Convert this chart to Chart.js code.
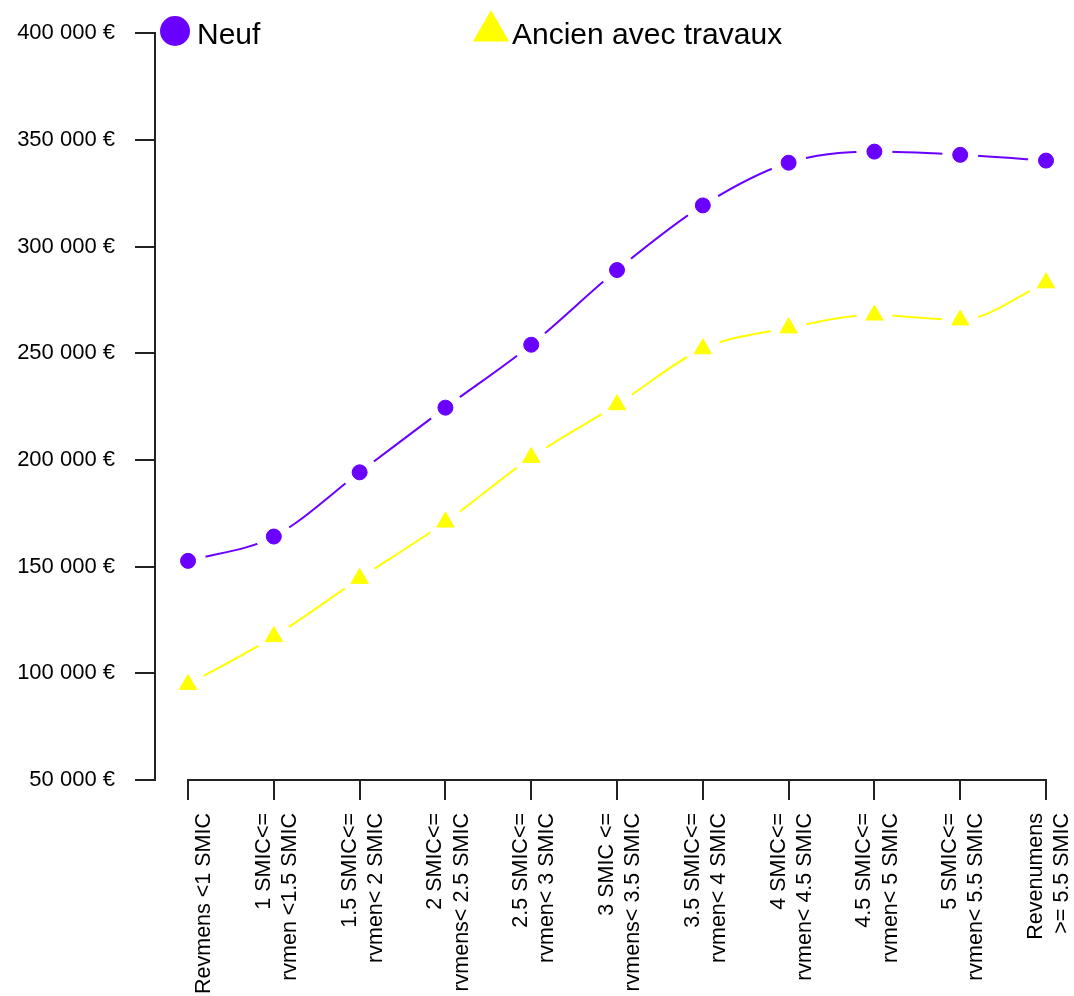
<!DOCTYPE html>
<html>
<head>
<meta charset="utf-8">
<script src="https://cdn.jsdelivr.net/npm/chart.js@4.4.1/dist/chart.umd.min.js"></script>
<style>
  body { margin: 0; background: #fff; }
</style>
</head>
<body>
<canvas id="prixRevenu" width="1074" height="996"></canvas>
<script>
// Tranches de revenu (axe X)
const categories = [
    ['', 'Revmens <1 SMIC'],
    ['1 SMIC<=', 'rvmen <1.5 SMIC'],
    ['1.5 SMIC<=', 'rvmen< 2 SMIC'],
    ['2 SMIC<=', 'rvmens< 2.5 SMIC'],
    ['2.5 SMIC<=', 'rvmen< 3 SMIC'],
    ['3 SMIC <=', 'rvmens< 3.5 SMIC'],
    ['3.5 SMIC<=', 'rvmen< 4 SMIC'],
    ['4 SMIC<=', 'rvmen< 4.5 SMIC'],
    ['4.5 SMIC<=', 'rvmen< 5 SMIC'],
    ['5 SMIC<=', 'rvmen< 5.5 SMIC'],
    ['Revenumens', '>= 5.5 SMIC']
];

// Prix moyens
const neuf = [152700, 164100, 194200, 224500, 254000, 289000, 319300, 339300, 344500, 343000, 340300];
const ancien = [94800, 117200, 144500, 170900, 201200, 225900, 252100, 261900, 267900, 265600, 283000];

// Graduations de l'axe Y
const yTicks = [50000, 100000, 150000, 200000, 250000, 300000, 350000, 400000];

const violet = '#6a00ff';
const jaune = '#ffff00';
const axe = '#222';

const euros = v => String(v).replace(/\B(?=(\d{3})+(?!\d))/g, ' ') + ' €';

// Trous blancs autour des points (comme type="b" de R)
const trous = {
    id: 'trous',
    afterDatasetDraw(chart, args) {
        const ctx = chart.ctx;
        args.meta.data.forEach(el => {
            ctx.save();
            ctx.fillStyle = '#fff';
            ctx.beginPath();
            ctx.arc(el.x, el.y, 18, 0, Math.PI * 2);
            ctx.fill();
            ctx.restore();
            el.draw(ctx, chart.chartArea);
        });
    }
};

// Ligne de l'axe X entre la première et la dernière tranche
const ligneX = {
    id: 'ligneX',
    afterDraw(chart) {
        const ctx = chart.ctx;
        const x = chart.scales.x;
        const y = chart.chartArea.bottom;
        ctx.save();
        ctx.strokeStyle = axe;
        ctx.lineWidth = 2;
        ctx.beginPath();
        ctx.moveTo(x.getPixelForValue(0) - 1, y);
        ctx.lineTo(x.getPixelForValue(categories.length - 1) + 1, y);
        ctx.stroke();
        ctx.restore();
    }
};

// Légende dessinée en haut du graphique
const legende = {
    id: 'legende',
    afterDraw(chart) {
        const ctx = chart.ctx;
        const ds = chart.data.datasets;
        ctx.save();
        ctx.font = '30px "Liberation Sans", Arial, sans-serif';
        ctx.textBaseline = 'alphabetic';

        // rond violet
        ctx.fillStyle = violet;
        ctx.beginPath();
        ctx.arc(175, 31, 15, 0, Math.PI * 2);
        ctx.fill();
        ctx.fillStyle = '#000';
        ctx.fillText(ds[0].label, 197, 44);

        // triangle jaune
        const r = 21, cx = 491, cy = 31;
        ctx.fillStyle = jaune;
        ctx.beginPath();
        ctx.moveTo(cx, cy - r);
        ctx.lineTo(cx + r * Math.sqrt(3) / 2, cy + r / 2);
        ctx.lineTo(cx - r * Math.sqrt(3) / 2, cy + r / 2);
        ctx.closePath();
        ctx.fill();
        ctx.fillStyle = '#000';
        ctx.fillText(ds[1].label, 512, 44);
        ctx.restore();
    }
};

const ctx = document.getElementById('prixRevenu').getContext('2d');

new Chart(ctx, {
    type: 'line',
    data: {
        datasets: [{
            label: 'Neuf',
            data: neuf.map((v, i) => ({ x: i, y: v })),
            borderColor: violet,
            backgroundColor: violet,
            borderWidth: 2,
            pointStyle: 'circle',
            pointRadius: 7.5,
            pointBorderWidth: 1,
            cubicInterpolationMode: 'monotone'
        }, {
            label: 'Ancien avec travaux',
            data: ancien.map((v, i) => ({ x: i, y: v })),
            borderColor: jaune,
            backgroundColor: jaune,
            borderWidth: 2,
            pointStyle: 'triangle',
            pointRadius: 10,
            pointBorderWidth: 1,
            cubicInterpolationMode: 'monotone'
        }]
    },
    options: {
        responsive: false,
        animation: false,
        devicePixelRatio: 1,
        layout: { padding: { left: 0, top: 30, right: 28, bottom: 0 } },
        plugins: {
            legend: { display: false },
            tooltip: { enabled: false }
        },
        scales: {
            x: {
                type: 'linear',
                min: -0.385,
                max: categories.length - 1,
                border: { display: false },
                grid: {
                    drawOnChartArea: false,
                    drawTicks: true,
                    tickLength: 20,
                    color: axe,
                    lineWidth: 2
                },
                ticks: {
                    stepSize: 1,
                    includeBounds: false,
                    autoSkip: false,
                    maxRotation: 90,
                    minRotation: 90,
                    labelOffset: -10,
                    padding: 13,
                    color: '#000',
                    font: { family: '"Liberation Sans", Arial, sans-serif', size: 21.5, lineHeight: 1.22 },
                    callback: v => categories[v] || ''
                },
                afterFit: s => {
                    s.height = 216;
                    s.paddingLeft = 0;
                    s.paddingRight = 0;
                }
            },
            y: {
                min: yTicks[0],
                max: yTicks[yTicks.length - 1],
                border: { display: true, color: axe, width: 2 },
                grid: {
                    drawOnChartArea: false,
                    drawTicks: true,
                    tickLength: 20,
                    color: axe,
                    lineWidth: 2
                },
                afterBuildTicks: s => { s.ticks = yTicks.map(v => ({ value: v })); },
                ticks: {
                    padding: 20,
                    color: '#000',
                    font: { family: '"Liberation Sans", Arial, sans-serif', size: 22 },
                    callback: v => euros(v)
                },
                afterFit: s => { s.width = 155; }
            }
        }
    },
    plugins: [trous, ligneX, legende]
});
</script>
</body>
</html>
